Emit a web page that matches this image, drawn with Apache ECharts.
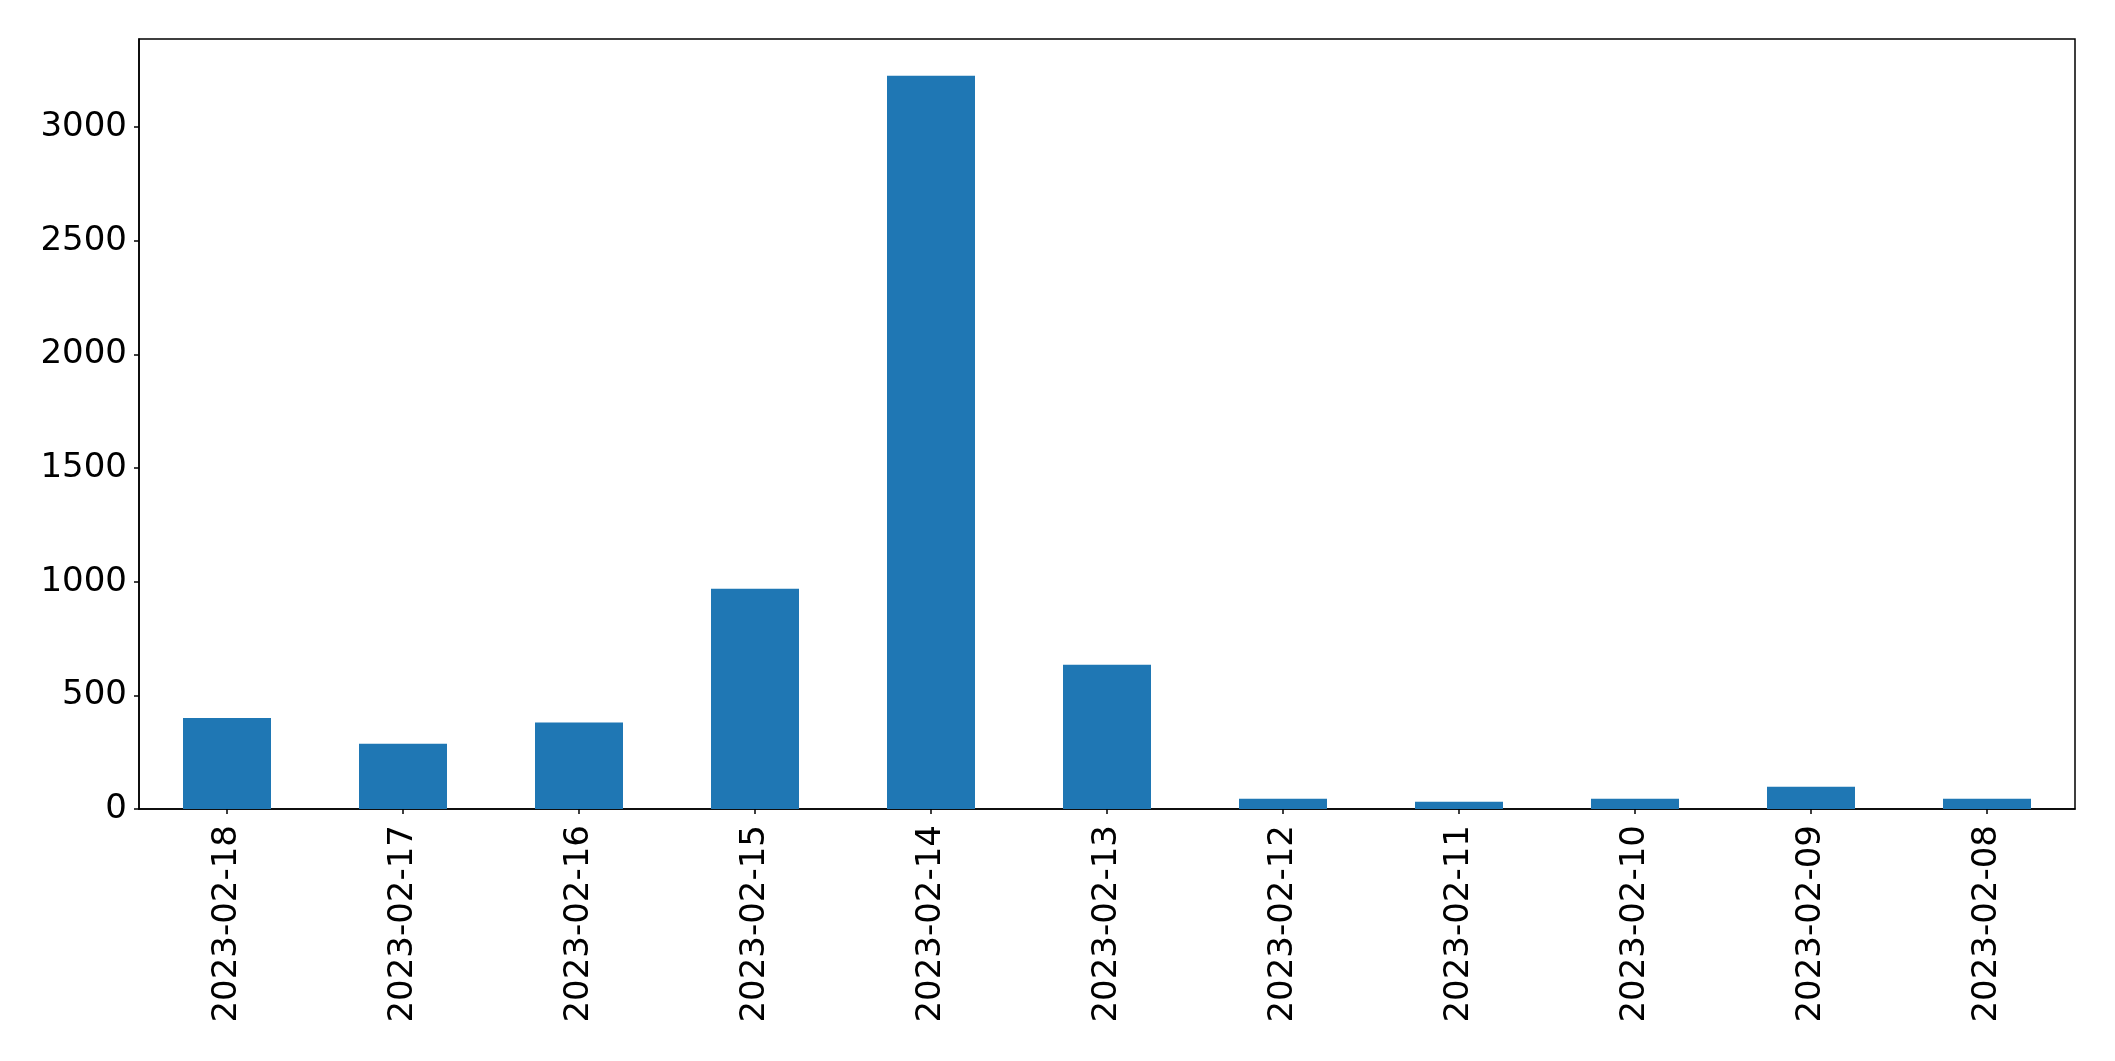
<!DOCTYPE html>
<html>
<head>
<meta charset="utf-8">
<script src="https://cdn.jsdelivr.net/npm/echarts@6/dist/echarts.min.js"></script>
<style>
html,body{margin:0;padding:0;background:#fff;}
#chart{width:2115px;height:1061px;}
</style>
</head>
<body>
<div id="chart"></div>
<script>
const categories = ['2023-02-18','2023-02-17','2023-02-16','2023-02-15','2023-02-14','2023-02-13','2023-02-12','2023-02-11','2023-02-10','2023-02-09','2023-02-08'];
const values = [400, 287, 380, 969, 3226, 635, 45, 32, 45, 98, 45];
const yTicks = [0, 500, 1000, 1500, 2000, 2500, 3000];

const chart = echarts.init(document.getElementById('chart'), null, {renderer: 'canvas'});
const font = 'DejaVu Sans';
chart.setOption({
  animation: false,
  backgroundColor: '#ffffff',
  grid: {
    left: 139, right: 40, top: 39, bottom: 252,
    show: true, borderColor: '#000', borderWidth: 1.5, backgroundColor: 'transparent'
  },
  xAxis: {
    type: 'category',
    data: categories,
    axisLine: {show: true, lineStyle: {color: '#000', width: 1.5}},
    axisTick: {show: true, alignWithLabel: true, length: 5, lineStyle: {color: '#000', width: 1.5}},
    axisLabel: {rotate: 90, margin: 16, fontSize: 34, fontFamily: font, color: '#000', interval: 0},
    splitLine: {show: false}
  },
  yAxis: {
    type: 'value',
    min: 0,
    max: function (v) { return v.max * 1.05; },
    axisLine: {show: true, lineStyle: {color: '#000', width: 1.5}},
    axisTick: {show: true, length: 5, lineStyle: {color: '#000', width: 1.5}, customValues: yTicks},
    axisLabel: {margin: 12, fontSize: 34, fontFamily: font, color: '#000', customValues: yTicks,
      formatter: function (v) { return String(Math.round(v)); }},
    splitLine: {show: false}
  },
  series: [{
    type: 'bar',
    data: values,
    barWidth: '50%',
    itemStyle: {color: '#1f77b4'}
  }]
});
</script>
</body>
</html>
